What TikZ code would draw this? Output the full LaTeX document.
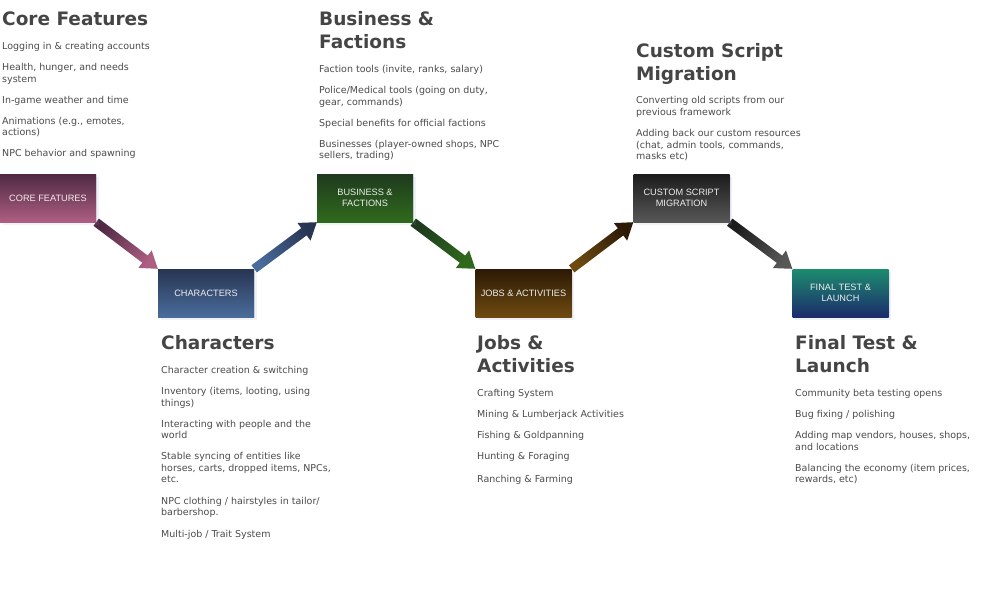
\documentclass[tikz,border=0pt]{standalone}
\usepackage{fontspec}
\setmainfont{DejaVu Sans}
\newfontfamily\boxfont{Liberation Sans}
\usetikzlibrary{calc,shadows}

\definecolor{headc}{HTML}{454545}
\definecolor{bodyc}{HTML}{4C4C4C}
\definecolor{boxtext}{HTML}{EDEDED}
\definecolor{coreT}{HTML}{4F2A42}
\definecolor{coreB}{HTML}{AE5E82}
\definecolor{charT}{HTML}{283552}
\definecolor{charB}{HTML}{4A6C9C}
\definecolor{busT}{HTML}{1F3A1E}
\definecolor{busB}{HTML}{2F6A1C}
\definecolor{jobT}{HTML}{2C1A06}
\definecolor{jobB}{HTML}{6E4A10}
\definecolor{cusT}{HTML}{1C1C1C}
\definecolor{cusB}{HTML}{575757}
\definecolor{finT}{HTML}{1C8C6E}
\definecolor{finB}{HTML}{1C2C6C}
\definecolor{shadowc}{HTML}{8A9CC0}

\newcommand{\blockarrow}[5]{%
  \coordinate (ba-h) at ($(#2)!16pt!(#1)$);
  \path[bottom color=#3, top color=#4, shading angle=#5]
    ($(#1)!4.5pt!90:(#2)$) -- ($(ba-h)!4.5pt!-90:(#1)$) -- ($(ba-h)!11pt!-90:(#1)$)
    -- (#2) -- ($(ba-h)!11pt!90:(#1)$) -- ($(ba-h)!4.5pt!90:(#1)$)
    -- ($(#1)!4.5pt!-90:(#2)$) -- cycle;
}

\tikzset{
  stage/.style={minimum width=96pt, minimum height=48pt, inner sep=2pt,
    align=center, text=boxtext, font=\boxfont\fontsize{9.2}{10.5}\selectfont,
    drop shadow={shadow xshift=2.5pt, shadow yshift=-2.5pt, fill=shadowc, opacity=0.12},
    drop shadow={shadow xshift=1.2pt, shadow yshift=-1.2pt, fill=shadowc, opacity=0.2}},
  head/.style={anchor=north west, inner sep=0pt, align=left, text=headc,
    font=\bfseries\fontsize{18.5}{23}\selectfont},
  body/.style={anchor=north west, inner sep=0pt, align=left, text=bodyc,
    font=\fontsize{9.5}{11.5}\selectfont},
  helper/.style={minimum width=96pt, minimum height=48pt, inner sep=0pt},
}

\begin{document}
\begin{tikzpicture}[x=1pt, y=-1pt]
\useasboundingbox[fill=white] (0,0) rectangle (1000,602);

\coordinate (p-core) at (48,198);
\coordinate (p-char) at (206,293);
\coordinate (p-bus) at (365,198);
\coordinate (p-job) at (523.5,293);
\coordinate (p-cus) at (681.5,198);
\coordinate (p-fin) at (840.5,293);

% empty helpers giving the box corners before the boxes are drawn
\node[helper] (c-core) at (p-core) {};
\node[helper] (c-char) at (p-char) {};
\node[helper] (c-bus) at (p-bus) {};
\node[helper] (c-job) at (p-job) {};
\node[helper] (c-cus) at (p-cus) {};
\node[helper] (c-fin) at (p-fin) {};

% arrows
\blockarrow{c-core.south east}{c-char.north west}{coreT}{coreB}{-126.7}
\blockarrow{c-char.north east}{c-bus.south west}{charB}{charT}{-53.3}
\blockarrow{c-bus.south east}{c-job.north west}{busT}{busB}{-126.7}
\blockarrow{c-job.north east}{c-cus.south west}{jobB}{jobT}{-53.3}
\blockarrow{c-cus.south east}{c-fin.north west}{cusT}{cusB}{-126.7}

% boxes
\node[stage, top color=coreT, bottom color=coreB] (core) at (p-core) {CORE FEATURES};
\node[stage, top color=charT, bottom color=charB] (char) at (p-char) {CHARACTERS};
\node[stage, top color=busT, bottom color=busB] (bus) at (p-bus) {BUSINESS \&\\FACTIONS};
\node[stage, top color=jobT, bottom color=jobB] (job) at (p-job) {JOBS \& ACTIVITIES};
\node[stage, top color=cusT, bottom color=cusB] (cus) at (p-cus) {CUSTOM SCRIPT\\MIGRATION};
\node[stage, top color=finT, bottom color=finB] (fin) at (p-fin) {FINAL TEST \&\\LAUNCH};

% headings
\node[head] (h-core) at (2,8.9) {\strut Core Features};
\node[head] (h-bus) at (319,8.9) {\strut Business \&\\Factions};
\node[head] (h-cus) at (636,40.9) {\strut Custom Script\\Migration};
\node[head] (h-char) at (161,332.9) {\strut Characters};
\node[head] (h-job) at (477,332.9) {\strut Jobs \&\\Activities};
\node[head] (h-fin) at (795,332.9) {\strut Final Test \&\\Launch};

% bodies
\node[body] (b-core) at (2,41.45) {\strut Logging in \& creating accounts\\[9.5pt]
Health, hunger, and needs\\system\\[9.5pt]
In-game weather and time\\[9.5pt]
Animations (e.g., emotes,\\actions)\\[9.5pt]
NPC behavior and spawning};

\node[body] (b-bus) at (319,64.45) {\strut Faction tools (invite, ranks, salary)\\[9.5pt]
Police/Medical tools (going on duty,\\gear, commands)\\[9.5pt]
Special benefits for official factions\\[9.5pt]
Businesses (player-owned shops, NPC\\sellers, trading)};

\node[body] (b-cus) at (636,95.45) {\strut Converting old scripts from our\\previous framework\\[10pt]
Adding back our custom resources\\(chat, admin tools, commands,\\masks etc)};

\node[body] (b-char) at (161,365.45) {\strut Character creation \& switching\\[9.5pt]
Inventory (items, looting, using\\things)\\[9.5pt]
Interacting with people and the\\world\\[9.5pt]
Stable syncing of entities like\\horses, carts, dropped items, NPCs,\\etc.\\[10pt]
NPC clothing / hairstyles in tailor/\\barbershop.\\[10pt]
Multi-job / Trait System};

\node[body] (b-job) at (477,388.45) {\strut Crafting System\\[9.5pt]
Mining \& Lumberjack Activities\\[9.5pt]
Fishing \& Goldpanning\\[9.5pt]
Hunting \& Foraging\\[11.5pt]
Ranching \& Farming};

\node[body] (b-fin) at (795,388.45) {\strut Community beta testing opens\\[9.5pt]
Bug fixing / polishing\\[9.5pt]
Adding map vendors, houses, shops,\\and locations\\[9.5pt]
Balancing the economy (item prices,\\rewards, etc)};
\end{tikzpicture}
\end{document}
